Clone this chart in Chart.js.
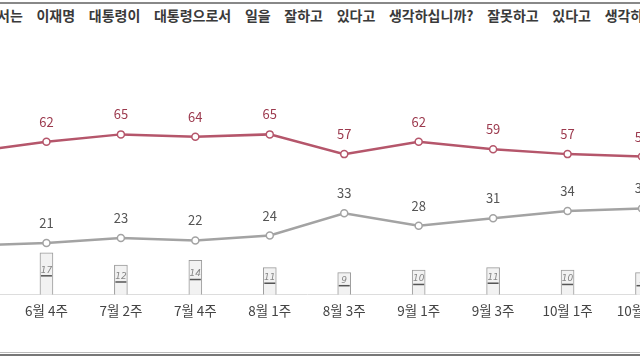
<!DOCTYPE html>
<html>
<head>
<meta charset="utf-8">
<script src="https://cdn.jsdelivr.net/npm/chart.js@4.4.0/dist/chart.umd.min.js"></script>
<style>
    html, body { margin: 0; padding: 0; background: #fff; }
    #wrap { position: relative; width: 640px; height: 360px; overflow: hidden; background: #fff; }
    #title {
        position: absolute; left: -3px; top: 5px; white-space: nowrap;
        font-family: "Noto Sans CJK KR", sans-serif; font-size: 14px; font-weight: 700;
        color: #3a3a3a; word-spacing: 10.5px;
    }
    #topline { position: absolute; left: 0; top: 2px; width: 640px; height: 2px; background: #888; }
    #botline1 { position: absolute; left: 0; top: 352px; width: 640px; height: 1px; background: #bbb; }
    #botline2 { position: absolute; left: 0; top: 354px; width: 640px; height: 2px; background: #777; }
    #chartBox { position: absolute; left: -68px; top: 0; width: 750px; height: 360px; }
</style>
</head>
<body>
<div id="wrap">
    <div id="topline"></div>
    <div id="title">서는 이재명 대통령이 대통령으로서 일을 잘하고 있다고 생각하십니까? 잘못하고 있다고 생각하십니까?</div>
    <div id="chartBox"><canvas id="pollChart" width="750" height="360"></canvas></div>
    <div id="botline1"></div>
    <div id="botline2"></div>
</div>
<script>
// Survey weeks
const weeks = ['6월 2주', '6월 4주', '7월 2주', '7월 4주', '8월 1주', '8월 3주', '9월 1주', '9월 3주', '10월 1주', '10월 3주'];
// 잘하고 있다 (positive)
const positive = [58, 62, 65, 64, 65, 57, 62, 59, 57, 56];
// 잘못하고 있다 (negative)
const negative = [20, 21, 23, 22, 24, 33, 28, 31, 34, 35];
// 모름/무응답
const unsure = [22, 17, 12, 14, 11, 9, 10, 11, 10, 9];

const redLine = '#b5566b';
const redText = '#9c3a4e';
const grayLine = '#a3a3a3';
const grayText = '#555555';

// Draws numbers above the line points and inside the bars
const valueLabels = {
    id: 'valueLabels',
    afterDatasetsDraw(chart) {
        const ctx = chart.ctx;
        ctx.save();
        chart.data.datasets.forEach(function(ds, i) {
            const meta = chart.getDatasetMeta(i);
            meta.data.forEach(function(el, j) {
                const v = ds.data[j];
                if (ds.type === 'bar') {
                    const mid = (el.y + el.base) / 2;
                    ctx.strokeStyle = '#555';
                    ctx.lineWidth = 1.5;
                    ctx.beginPath();
                    ctx.moveTo(el.x - 5.5, mid + 2);
                    ctx.lineTo(el.x + 5.5, mid + 2);
                    ctx.stroke();
                    ctx.font = 'italic 9px "DejaVu Sans", sans-serif';
                    ctx.fillStyle = '#888';
                    ctx.textAlign = 'center';
                    ctx.textBaseline = 'bottom';
                    ctx.fillText(v, el.x, mid + 1);
                } else {
                    ctx.font = '13px "Noto Sans CJK KR", sans-serif';
                    ctx.fillStyle = ds.labelColor;
                    ctx.textAlign = 'center';
                    ctx.textBaseline = 'middle';
                    ctx.fillText(v, el.x, el.y - 20);
                }
            });
        });
        ctx.restore();
    }
};

const ctx = document.getElementById('pollChart').getContext('2d');
const pollChart = new Chart(ctx, {
    data: {
        labels: weeks,
        datasets: [{
            type: 'line',
            label: '잘하고 있다',
            data: positive,
            borderColor: redLine,
            borderWidth: 2.5,
            pointRadius: 3.5,
            pointBackgroundColor: '#fff',
            pointBorderColor: redLine,
            pointBorderWidth: 1.5,
            labelColor: redText,
            tension: 0,
            order: 1
        },
        {
            type: 'line',
            label: '잘못하고 있다',
            data: negative,
            borderColor: grayLine,
            borderWidth: 2.5,
            pointRadius: 3.5,
            pointBackgroundColor: '#fff',
            pointBorderColor: grayLine,
            pointBorderWidth: 1.5,
            labelColor: grayText,
            tension: 0,
            order: 2
        },
        {
            type: 'bar',
            label: '모름/무응답',
            data: unsure,
            backgroundColor: '#f2f2f2',
            borderColor: '#9a9a9a',
            borderWidth: 1,
            barThickness: 13,
            order: 3
        }]
    },
    options: {
        responsive: false,
        animation: false,
        layout: { padding: { left: 40, right: 40, top: 48, bottom: 33 } },
        plugins: {
            legend: { display: false },
            tooltip: { enabled: false }
        },
        scales: {
            x: {
                offset: false,
                grid: { display: false, drawTicks: false },
                border: { color: '#dddddd', width: 1 },
                ticks: {
                    color: '#444',
                    padding: 8,
                    maxRotation: 0,
                    autoSkip: false,
                    font: { family: '"Noto Sans CJK KR", sans-serif', size: 13.5 }
                }
            },
            y: {
                display: false,
                min: 0,
                max: 100
            }
        }
    },
    plugins: [valueLabels]
});
</script>
</body>
</html>
